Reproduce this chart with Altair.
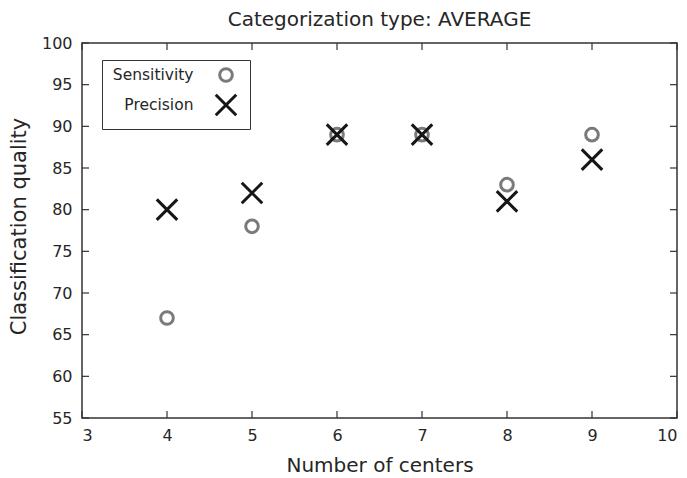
import altair as alt
import pandas as pd

centers = [4, 5, 6, 7, 8, 9]
sensitivity = [67, 78, 89, 89, 83, 89]
precision = [80, 82, 89, 89, 81, 86]
series_names = ["Sensitivity", "Precision"]
x_ticks = [3, 4, 5, 6, 7, 8, 9, 10]
y_ticks = [55, 60, 65, 70, 75, 80, 85, 90, 95, 100]

W, H = 595, 375
TICK = 7
FONT = "DejaVu Sans"
TXT = "#262626"
FRAME = "#333333"

df = pd.DataFrame({
    "centers": centers + centers,
    "value": sensitivity + precision,
    "series": [series_names[0]] * len(centers) + [series_names[1]] * len(centers),
})
xt = pd.DataFrame({"t": x_ticks})
yt = pd.DataFrame({"t": y_ticks})

xs = alt.Scale(domain=[3, 10], nice=False, zero=False)
ys = alt.Scale(domain=[55, 100], nice=False, zero=False)

legend = alt.Legend(
    title=None, orient="none", legendX=20, legendY=17,
    strokeColor=FRAME, fillColor="white", padding=7,
    labelFont=FONT, labelFontSize=15.5, labelColor=TXT,
    labelAlign="right", symbolOffset=105, labelOffset={"expr": "-44.5"},
    symbolStrokeWidth=3, rowPadding=0,
)

points = alt.Chart(df).mark_point(filled=False, strokeWidth=3, opacity=1).encode(
    x=alt.X("centers:Q", scale=xs,
            axis=alt.Axis(values=x_ticks, format="d", title="Number of centers", ticks=False,
                          domain=False, grid=False, labelPadding=9, labelFontSize=16,
                          titleFontSize=20, titlePadding=12, labelFont=FONT, titleFont=FONT,
                          labelColor=TXT, titleColor=TXT, titleFontWeight="normal")),
    y=alt.Y("value:Q", scale=ys,
            axis=alt.Axis(values=y_ticks, format="d", title="Classification quality", ticks=False,
                          domain=False, grid=False, labelPadding=10, labelFontSize=16,
                          titleFontSize=21, titlePadding=12, titleY=183, labelFont=FONT,
                          titleFont=FONT, labelColor=TXT, titleColor=TXT,
                          titleFontWeight="normal")),
    shape=alt.Shape("series:N", scale=alt.Scale(domain=series_names,
                    range=["circle", "M-1,-1L1,1M-1,1L1,-1"]), legend=legend),
    color=alt.Color("series:N", scale=alt.Scale(domain=series_names,
                    range=["#7a7a7a", "#161616"]), legend=legend),
    size=alt.Size("series:N", scale=alt.Scale(domain=series_names, range=[160, 420]),
                  legend=legend),
    order=alt.Order("order:Q"),
).transform_calculate(order="datum.series == 'Sensitivity' ? 0 : 1")

bx = alt.Chart(xt).mark_rule(color=FRAME, strokeWidth=1.2).encode(
    x=alt.X("t:Q", scale=xs), y=alt.value(H), y2=alt.value(H - TICK))
tx = alt.Chart(xt).mark_rule(color=FRAME, strokeWidth=1.2).encode(
    x=alt.X("t:Q", scale=xs), y=alt.value(0), y2=alt.value(TICK))
ly = alt.Chart(yt).mark_rule(color=FRAME, strokeWidth=1.2).encode(
    y=alt.Y("t:Q", scale=ys), x=alt.value(0), x2=alt.value(TICK))
ry = alt.Chart(yt).mark_rule(color=FRAME, strokeWidth=1.2).encode(
    y=alt.Y("t:Q", scale=ys), x=alt.value(W), x2=alt.value(W - TICK))

chart = alt.layer(points, bx, tx, ly, ry).properties(
    width=W, height=H,
    title=alt.TitleParams("Categorization type: AVERAGE", font=FONT, fontSize=20,
                          fontWeight="normal", color=TXT, anchor="middle", offset=5,
                          frame="group"),
    autosize=alt.AutoSizeParams(type="none"),
    padding={"left": 74, "top": 35, "right": 2, "bottom": 58},
).configure(background="white").configure_view(stroke=FRAME, strokeWidth=1.5)

chart.save("out.html", embed_options={"renderer": "svg", "actions": False})
